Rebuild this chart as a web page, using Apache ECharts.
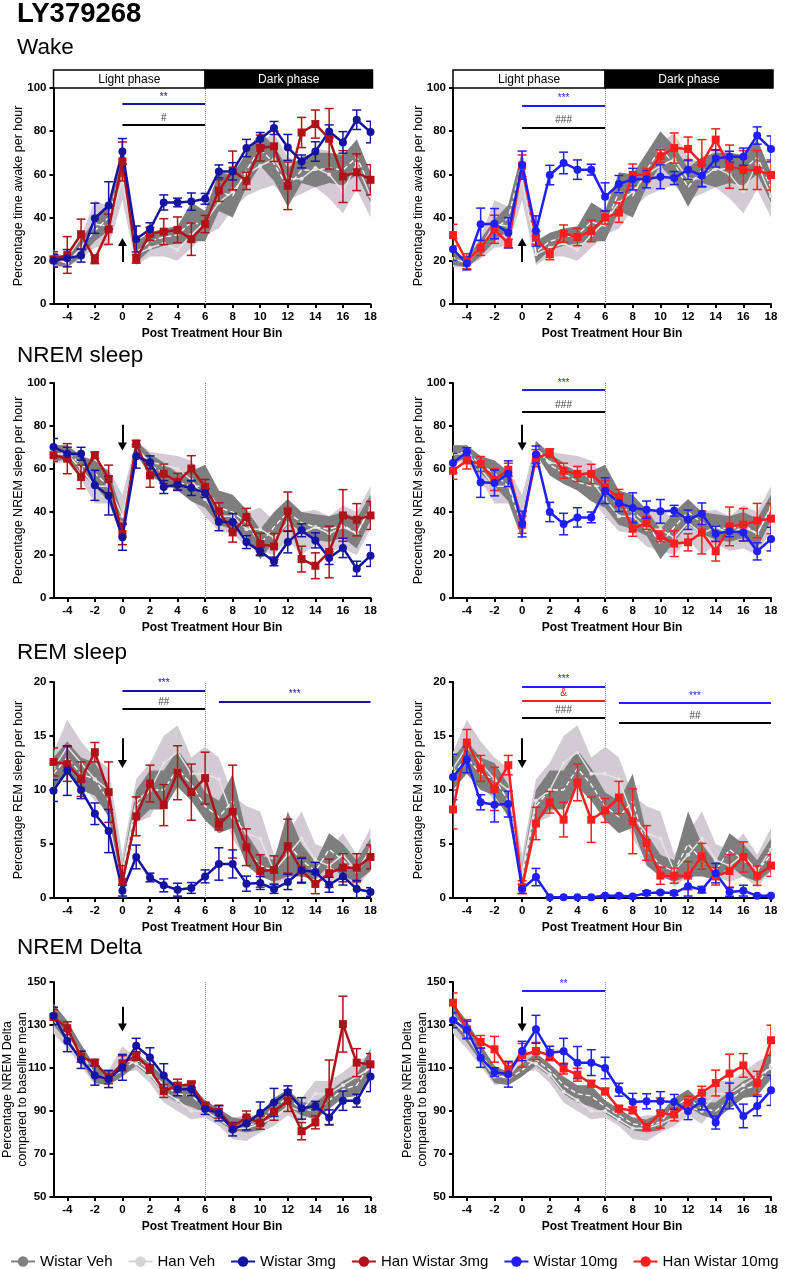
<!DOCTYPE html>
<html><head><meta charset="utf-8">
<script src="https://cdn.jsdelivr.net/npm/echarts@6/dist/echarts.min.js"></script>
<style>html,body{margin:0;padding:0;background:#fff}#c{width:789px;height:1269px}</style>
</head><body><div id="c"></div>
<script>
// ---------- DATA ----------
const hours = [-5,-4,-3,-2,-1,0,1,2,3,4,5,6,7,8,9,10,11,12,13,14,15,16,17,18];
const xTicks = [-4,-2,0,2,4,6,8,10,12,14,16,18];

// Wake
const wakeW3    = [20,21.2,22.4,39.7,45.6,70.6,30.1,34.6,47,47,47.4,48.7,61.4,61.4,72.2,76.4,81.5,72.5,66,70.6,79.9,74.8,85.3,79.6];
const wakeW3Err = [3,4,3,7,11,6,6,3,3.5,2,4,2.5,3,4,4,3,3,6,3,4.5,3,5,4.5,5];
const wakeH3    = [20.7,22.7,32.3,20.7,34.6,66,20.9,32.5,33.5,34.3,30,37,52.5,61.8,57,72.2,73,54.7,79.4,83.3,76.5,59,61,57.5];
const wakeH3Err = [3.5,8.5,7,2,7,9,2,3,6,6,7.5,4,5,9,4,6,7,11,7,6.5,14,12,8.5,7];
const wakeW10    = [25.3,18.8,36.9,37.2,33,64.3,33.8,59.7,65.3,62.2,62.2,49.6,55.5,57.8,57.8,58.9,58.3,62.2,59.4,67.4,68.2,68.2,78,71.8];
const wakeW10Err = [5,3,7.5,7,7,6.5,7,4.5,5,4.5,2.5,6.5,4,5,4,5.5,3,4.5,5,4,2.5,4,4,6];
const wakeH10    = [31.9,19.8,26,34.6,28,64,30.7,23,32.6,31,33.8,40,42.3,59.8,59.8,68.4,72.2,71.8,65.1,76.1,63.6,62,62,59.7];
const wakeH10Err = [5,3.5,3.5,6.5,2,5,3,2.5,4,4,5,3,4.5,5,3,3,7,5.5,11,5,10,9,9,7];
const wakeWVmean = [21,19,26,34,40,65,24,29,31,32,38,36,52,50,62,72,65,54,62,62,63,62,68,54];
const wakeWVsd   = [3,2,4,5,6,6,5,4,4,4,9,7,9,10,8,8,8,9,6,8,7,7,8,7];
const wakeHVmean = [21,19,26,37,36,58,23,26,28,25,32,38,47,52,60,64,67,58,58,63,60,52,65,50];
const wakeHVsd   = [4,2,5,11,9,10,5,4,6,5,6,6,12,8,10,11,12,10,7,9,11,10,12,10];

// NREM sleep
const nremW3    = [70.2,67.1,67.1,52.4,47.6,28.2,65.9,63.1,51.6,52.7,51.2,48.8,35.3,35.3,26,21.7,17,26,31.5,26.8,18.6,23.3,13.6,19.7];
const nremW3Err = [4,3,3,7,9,6,5.5,3,3,2.5,3.5,2,4,4,3,2,2,5,3,3.5,3,4.5,3.5,5];
const nremH3    = [66.4,64.8,56.3,66.4,55.3,29.8,71.8,57,57.8,54,60.2,51.6,40.3,30.5,37.7,25.1,24,40.3,18.1,15,21.4,38.4,36.4,38.4];
const nremH3Err = [3,7,5.5,1.5,6.5,5,1.5,5.5,4.5,4,6,3.5,4,4.5,4,5,6,9,6,6,12,12,7.5,6.5];
const nremW10    = [62.8,67.9,53.8,53.5,57.8,34.4,66.7,40,34.4,37.5,37.5,49.9,44.2,41.9,41.1,40.3,40.6,36.4,39.2,29.9,31,30.5,21.7,27.4];
const nremW10Err = [4.5,2,7,6,6,6,4,4.5,5,4.5,2.5,6,4,7,4,5.5,2.5,4.5,5,3.5,2.5,4,4,5.5];
const nremH10    = [59.2,64,62.3,55,59.7,34.1,65,67.4,59.2,57.7,57.7,51.5,46.5,32.2,34.9,28.7,25.3,25.9,30.5,21.7,33.3,34.1,36,36.9];
const nremH10Err = [4,4,3.5,5,3,4,4,2,3.5,3.5,4.5,3,4,3.5,3,2.5,6,4,10,4.5,9,7.5,8,7];
const nremWVmean = [67,68,62,58,52,33,70,62,58,54,52,52,42,40,35,25,33,40,35,33,32,34,30,42];
const nremWVsd   = [4,3,4,6,7,6,3,5,5,4,7,10,8,8,6,7,7,6,5,6,6,6,7,6];
const nremHVmean = [67,67,60,52,52,38,70,63,62,60,55,46,38,38,32,32,28,35,30,33,30,33,30,42];
const nremHVsd   = [4,4,5,8,8,10,3,5,5,6,9,8,7,8,8,10,8,8,10,8,8,10,10,10];

// REM sleep
const remW3    = [9.94,11.8,10,7.8,6.2,0.68,3.8,1.9,1.17,0.77,0.93,2.0,3.15,3.15,1.33,1.39,0.83,1.48,2.56,2.4,1.23,2.0,0.83,0.56];
const remW3Err = [1,2.3,0.8,1,2,0.5,1.1,0.4,0.6,0.6,0.5,0.6,1.5,1.3,0.7,0.6,0.4,0.7,1.1,0.9,0.7,0.8,0.8,0.4];
const remH3    = [12.6,12.4,11,13.5,9.8,1.5,7.56,10.6,8.6,11.6,9.8,11.1,6.8,8.0,4.7,2.5,2.6,4.8,2.56,1.3,2.3,2.8,2.8,3.8];
const remH3Err = [1.3,1.6,1.6,0.9,2.8,1.5,1.8,1.7,1.9,2.5,2.6,2.4,0.5,4.3,1.7,1.5,1.3,2.5,1.2,0.9,1.3,1.3,1.3,1.1];
const remW10    = [11.2,12.8,8.86,8.64,8.7,0.83,1.94,0.06,0.06,0.06,0.06,0.2,0.2,0.15,0.46,0.52,0.46,1.08,0.77,2.3,0.56,0.68,0.2,0.2];
const remW10Err = [2.1,1.2,0.7,1.6,1.2,0.4,0.8,0.05,0.05,0.05,0.05,0.1,0.1,0.1,0.2,0.1,0.2,0.9,0.3,0.9,0.4,0.5,0.1,0.1];
const remH10    = [8.2,14.4,12,10.1,12.3,1.0,6.9,8.86,7.25,10.7,7.25,8.1,9.3,7.1,5.1,2.07,2.07,2.07,3.86,2.0,2.5,3.8,2.07,3.0];
const remH10Err = [1.8,1.2,1.2,2,0.9,0.6,1.5,1,1.6,1.7,2.1,1.1,1.5,3,1.6,0.8,0.7,1.3,1.2,0.8,1.5,1.4,0.9,1];
const remWVmean = [11.5,13,11.5,11,9,2,8.5,10,10,12,10.5,8.5,7.5,9,4.5,3,2.5,5,3.5,2.5,4.5,3.5,2.5,4];
const remWVsd   = [1.5,1.5,1.5,1.5,1.5,1,1.5,1.8,1.8,1.7,1.5,1.3,1.5,2.5,1.5,1,1,3,1.5,0.8,1.5,1.5,1,1.5];
const remHVmean = [12,14,12.5,11,10,2.5,9,10,12.5,13.5,11.5,11.5,11,7.5,6,5.5,2.5,4,5.5,3.5,3,4,2.5,4.5];
const remHVsd   = [1.5,2.5,2,2,2,1.5,2,2.5,2.5,2.5,1.5,2.5,2,2,2.5,2.5,1.5,2,2.5,1.5,1.5,2,1.5,2];

// NREM Delta
const deltaW3    = [134.3,122.6,113.8,106.5,104.9,110.3,120.3,114.9,106.5,100.1,100.1,90.9,88.9,81.4,84.2,89.2,94,98.7,91.2,92.5,87,94.8,94.8,106];
const deltaW3Err = [4,5,4,4.5,4,6,3.5,4.5,5.5,3,3,2.5,3.5,3,3,5,6.5,3,5,2,3.5,4.5,3,7];
const deltaH3    = [133.7,128.5,115.3,112.5,105.7,112.2,115.6,109.6,99.3,101.8,102.4,92.5,89.7,82.7,87,84.5,89.7,94.8,80.6,84.7,98.7,130.4,112.5,111.7];
const deltaH3Err = [3.5,3,2.5,1.5,3,3.5,2,2,3,3,1.5,1.5,3,2,3,3,4,5,4,3,15,13,6.5,5];
const deltaW10    = [132.2,127.8,114.8,108.1,107.1,117.9,128,117.1,117.8,112.5,112.5,110,99.9,94.2,94.5,94.5,94.2,90,94.5,84.6,97,87.7,92.3,99.6];
const deltaW10Err = [3.5,4,4.5,2,6,4.5,6.5,3,6,7.5,6,5,3,4,3.5,4.5,3.5,4,4,3,6,5.5,4.5,7];
const deltaH10    = [140.4,128,122.1,118.7,109.4,115.9,117.9,115.9,109.7,106.9,102.7,99.1,91.1,90.3,82.6,89,88.4,93.9,98.5,103,107.4,111.2,103,122.9];
const deltaH10Err = [4.5,4.5,3,6,3,5.5,4,2.5,2.5,3,1.5,1.5,1.5,1.5,1.5,7,3,3,3,6,9,5.5,5.5,7];
const deltaWVmean = [135,127,117,107,105,109,114,109,102,98,97,92,88,84,83,85,92,96,91,90,95,100,102,112];
const deltaWVsd   = [5,5,4,4,3,3,3,3,4,4,5,3,3,3,3,4,4,4,3,4,4,4,5,7];
const deltaHVmean = [132,125,115,106,106,114,112,107,99,95,90,90,86,82,82,84,87,92,90,98,98,102,106,110];
const deltaHVsd   = [6,6,4,4,3,6,3,4,5,5,4,3,3,5,6,4,4,4,6,6,6,6,7,6];

// significance bars: [x from, x to, y, text, colour key]
const wakeSig3   = [[0,6,92.6,'**','w3'],[0,6,82.8,'#','k']];
const wakeSig10  = [[0,6,91.9,'***','w10'],[0,6,81.7,'###','k']];
const nremSig3   = [];
const nremSig10  = [[0,6,96.7,'***','w10'],[0,6,86.4,'###','k']];
const remSig3    = [[0,6,19.2,'***','w3'],[0,6,17.5,'##','k'],[7,18,18.2,'***','w3']];
const remSig10   = [[0,6,19.6,'***','w10'],[0,6,18.3,'&','h10'],[0,6,16.7,'###','k'],[7,18,18.05,'***','w10'],[7,18,16.2,'##','k']];
const deltaSig3  = [];
const deltaSig10 = [[0,6,145.7,'**','w10']];
// dosing arrows: [x, from y, to y]
const wakeArrow  = [0,19.5,28.7];
const nremArrow  = [0,80.6,70.5];
const remArrow   = [0,14.8,12.4];
const deltaArrow = [0,138.5,128.8];

const legendNames = ['Wistar Veh','Han Veh','Wistar 3mg','Han Wistar 3mg','Wistar 10mg','Han Wistar 10mg'];

// ---------- STYLE / LAYOUT ----------
const FONT = '"Liberation Sans", Arial, Helvetica, sans-serif';
const COL = {wv:'#808080', hv:'#d3d3d3', w3:'#1414a0', h3:'#b0121a', w10:'#1e1eff', h10:'#ff1e1e', k:'#000'};
const SIGTXT = {w3:'#1414a0', h3:'#b0121a', w10:'#1e1eff', h10:'#ff1e1e', k:'#444'};
const BAND_DARK = '#7e7e7e', BAND_LIGHT = '#d3cbd3';
const gridLeft = [53.5, 453], gridWidth = [317, 318];
const gridTop = [88, 383, 682, 982], gridHeight = [216, 215, 216, 215];

const rows = [
  {yname:'Percentage time awake per hour', min:0, max:100, ticks:[0,20,40,60,80,100], wv:[wakeWVmean,wakeWVsd], hv:[wakeHVmean,wakeHVsd], arrow:wakeArrow, gap:27},
  {yname:'Percentage NREM sleep per hour', min:0, max:100, ticks:[0,20,40,60,80,100], wv:[nremWVmean,nremWVsd], hv:[nremHVmean,nremHVsd], arrow:nremArrow, gap:27},
  {yname:'Percentage REM sleep per hour', min:0, max:20, ticks:[0,5,10,15,20], wv:[remWVmean,remWVsd], hv:[remHVmean,remHVsd], arrow:remArrow, gap:27},
  {yname:'Percentage NREM Delta\ncompared to baseline mean', min:50, max:150, ticks:[50,70,90,110,130,150], wv:[deltaWVmean,deltaWVsd], hv:[deltaHVmean,deltaHVsd], arrow:deltaArrow, gap:23}
];
const panels = [
  {row:0,col:0,a:[wakeW3,wakeW3Err],b:[wakeH3,wakeH3Err],dose:3,sig:wakeSig3},
  {row:0,col:1,a:[wakeW10,wakeW10Err],b:[wakeH10,wakeH10Err],dose:10,sig:wakeSig10},
  {row:1,col:0,a:[nremW3,nremW3Err],b:[nremH3,nremH3Err],dose:3,sig:nremSig3},
  {row:1,col:1,a:[nremW10,nremW10Err],b:[nremH10,nremH10Err],dose:10,sig:nremSig10},
  {row:2,col:0,a:[remW3,remW3Err],b:[remH3,remH3Err],dose:3,sig:remSig3},
  {row:2,col:1,a:[remW10,remW10Err],b:[remH10,remH10Err],dose:10,sig:remSig10},
  {row:3,col:0,a:[deltaW3,deltaW3Err],b:[deltaH3,deltaH3Err],dose:3,sig:deltaSig3},
  {row:3,col:1,a:[deltaW10,deltaW10Err],b:[deltaH10,deltaH10Err],dose:10,sig:deltaSig10}
];

const grids = [], xAxes = [], yAxes = [], series = [];

// legend helper series (no data; they only give the legend its icons)
const legendCols = [COL.wv, COL.hv, COL.w3, COL.h3, COL.w10, COL.h10];
legendNames.forEach((n, i) => series.push({
  type:'line', name:n, data:[], xAxisIndex:0, yAxisIndex:0, symbol:'circle', symbolSize:10,
  color:legendCols[i], itemStyle:{color:legendCols[i]}, lineStyle:{width:3, color:legendCols[i]}
}));

function errSeries(gi, mean, err, color) {
  return {
    type:'custom', xAxisIndex:gi, yAxisIndex:gi, silent:true, clip:true, z:3,
    data: mean.map((m, i) => [hours[i], m - err[i], m + err[i]]),
    encode:{x:0, y:[1,2]},
    renderItem: (params, api) => {
      const x = api.value(0);
      const lo = api.coord([x, api.value(1)]);
      const hi = api.coord([x, api.value(2)]);
      const w = 4.5, st = {stroke:color, lineWidth:1.5};
      return {type:'group', children:[
        {type:'line', shape:{x1:lo[0], y1:lo[1], x2:hi[0], y2:hi[1]}, style:st},
        {type:'line', shape:{x1:lo[0]-w, y1:lo[1], x2:lo[0]+w, y2:lo[1]}, style:st},
        {type:'line', shape:{x1:hi[0]-w, y1:hi[1], x2:hi[0]+w, y2:hi[1]}, style:st}
      ]};
    }
  };
}

function bandSeries(gi, mean, sd, color) {
  const data = mean.map((m, i) => [hours[i], m - sd[i], m + sd[i]]);
  return {
    type:'custom', xAxisIndex:gi, yAxisIndex:gi, silent:true, clip:true, z:2,
    data, encode:{x:0, y:[1,2]},
    renderItem: (params, api) => {
      if (params.dataIndex !== 0) return null;
      const up = data.map(d => api.coord([d[0], d[2]]));
      const lo = data.map(d => api.coord([d[0], d[1]])).reverse();
      return {type:'polygon', shape:{points: up.concat(lo)}, style:{fill:color, stroke:null}};
    }
  };
}

panels.forEach((p, gi) => {
  const r = rows[p.row];
  grids.push({left:gridLeft[p.col], top:gridTop[p.row], width:gridWidth[p.col], height:gridHeight[p.row],
    containLabel:false, outerBoundsMode:'none'});
  xAxes.push({
    type:'value', gridIndex:gi, min:-5, max:18,
    name:'Post Treatment Hour Bin', nameLocation:'middle', nameGap:24, nameMoveOverlap:false,
    nameTextStyle:{fontFamily:FONT, fontSize:12, fontWeight:'bold', color:'#000'},
    axisLine:{show:true, onZero:false, lineStyle:{color:'#000', width:2}},
    axisTick:{show:true, customValues:xTicks, length:4, lineStyle:{color:'#000', width:2}},
    axisLabel:{customValues:xTicks, fontFamily:FONT, fontSize:11.5, fontWeight:'bold', color:'#000', margin:7},
    splitLine:{show:false}
  });
  yAxes.push({
    type:'value', gridIndex:gi, min:r.min, max:r.max,
    name:r.yname, nameLocation:'middle', nameGap:r.gap, nameRotate:90, nameMoveOverlap:false,
    nameTextStyle:{fontFamily:FONT, fontSize:12.5, color:'#000', lineHeight:15, align:'center'},
    axisLine:{show:true, onZero:false, lineStyle:{color:'#000', width:2}},
    axisTick:{show:true, customValues:r.ticks, length:4, lineStyle:{color:'#000', width:2}},
    axisLabel:{customValues:r.ticks, fontFamily:FONT, fontSize:11.5, fontWeight:'bold', color:'#000', margin:7},
    splitLine:{show:false}
  });

  const pts = arr => arr.map((v, i) => [hours[i], v]);
  series.push(bandSeries(gi, r.hv[0], r.hv[1], BAND_LIGHT));
  series.push(bandSeries(gi, r.wv[0], r.wv[1], BAND_DARK));
  series.push({type:'line', xAxisIndex:gi, yAxisIndex:gi, silent:true, z:2, data:pts(r.hv[0]),
    symbol:'circle', symbolSize:4, itemStyle:{color:'#e4e4e4'}, lineStyle:{color:'#e4e4e4', width:1.5},
    markLine:{silent:true, z:1, symbol:['none','none'], label:{show:false},
      lineStyle:{type:'dotted', color:'#8a8a8a', width:1}, data:[{xAxis:6}]}});
  series.push({type:'line', xAxisIndex:gi, yAxisIndex:gi, silent:true, z:2, data:pts(r.wv[0]),
    symbol:'none', lineStyle:{color:'#ffffff', width:1.3, type:[5,3]}});

  const aName = p.dose === 3 ? 'Wistar 3mg' : 'Wistar 10mg';
  const bName = p.dose === 3 ? 'Han Wistar 3mg' : 'Han Wistar 10mg';
  const aCol = p.dose === 3 ? COL.w3 : COL.w10;
  const bCol = p.dose === 3 ? COL.h3 : COL.h10;

  // marklines: significance bars + dosing arrow
  const ml = [];
  p.sig.forEach(s => {
    ml.push([
      {coord:[s[0], s[2]], lineStyle:{color:COL[s[4]], width:2, type:'solid'},
       label:{show:true, formatter:s[3], position:'insideMiddleTop', distance:2, color:SIGTXT[s[4]], fontSize:10, fontFamily:FONT}},
      {coord:[s[1], s[2]]}
    ]);
  });
  const ar = r.arrow;
  ml.push([
    {coord:[ar[0], ar[1]], symbol:'none', lineStyle:{color:'#000', width:2, type:'solid'}, label:{show:false}},
    {coord:[ar[0], ar[2]], symbol:'triangle', symbolSize:[9,8]}
  ]);

  series.push(errSeries(gi, p.b[0], p.b[1], bCol));
  series.push({type:'line', name:bName, xAxisIndex:gi, yAxisIndex:gi, z:3, data:pts(p.b[0]),
    symbol:'rect', symbolSize:8, itemStyle:{color:bCol}, lineStyle:{color:bCol, width:2.5},
    markLine:{silent:true, symbol:['none','none'], label:{show:false}, animation:false, data:ml}});
  series.push(errSeries(gi, p.a[0], p.a[1], aCol));
  series.push({type:'line', name:aName, xAxisIndex:gi, yAxisIndex:gi, z:3, data:pts(p.a[0]),
    symbol:'circle', symbolSize:8, itemStyle:{color:aCol}, lineStyle:{color:aCol, width:2.5}});
});

const titleStyle = (size, bold) => ({fontFamily:FONT, fontSize:size, fontWeight:bold ? 'bold' : 'normal', color:'#000'});
const option = {
  animation:false,
  backgroundColor:'#fff',
  title:[
    {text:'LY379268', left:17, top:0, padding:0, textStyle:titleStyle(27.5, true)},
    {text:'Wake', left:17, top:36, padding:0, textStyle:titleStyle(22.5, false)},
    {text:'NREM sleep', left:17, top:344, padding:0, textStyle:titleStyle(22.5, false)},
    {text:'REM sleep', left:17, top:641, padding:0, textStyle:titleStyle(22.5, false)},
    {text:'NREM Delta', left:17, top:936, padding:0, textStyle:titleStyle(22.5, false)}
  ],
  legend:{data:legendNames, left:5, top:1249, itemWidth:24, itemHeight:13, itemGap:15, selectedMode:false,
    textStyle:{fontFamily:FONT, fontSize:15, color:'#000'}},
  grid:grids, xAxis:xAxes, yAxis:yAxes, series:series
};

const chart = echarts.init(document.getElementById('c'), null, {renderer:'canvas', width:789, height:1269});
chart.setOption(option);

// light / dark phase bars above the Wake panels
const g = [];
[0,1].forEach(gi => {
  const a = chart.convertToPixel({gridIndex:gi}, [-5, 100]);
  const b = chart.convertToPixel({gridIndex:gi}, [6, 100]);
  const c = chart.convertToPixel({gridIndex:gi}, [18, 100]);
  const h = 18, y0 = a[1] - h;
  g.push({type:'rect', shape:{x:a[0], y:y0, width:b[0]-a[0], height:h}, style:{fill:'#fff', stroke:'#000', lineWidth:1.5}, z:10});
  g.push({type:'rect', shape:{x:b[0], y:y0, width:c[0]+2-b[0], height:h}, style:{fill:'#000', stroke:'#000', lineWidth:1.5}, z:10});
  g.push({type:'text', x:(a[0]+b[0])/2, y:y0+h/2+0.5, z:11, style:{text:'Light phase', fill:'#000', font:'12px ' + FONT, align:'center', verticalAlign:'middle'}});
  g.push({type:'text', x:(b[0]+c[0]+2)/2, y:y0+h/2+0.5, z:11, style:{text:'Dark phase', fill:'#fff', font:'12px ' + FONT, align:'center', verticalAlign:'middle'}});
});
chart.setOption({graphic:g});
</script>
</body></html>
